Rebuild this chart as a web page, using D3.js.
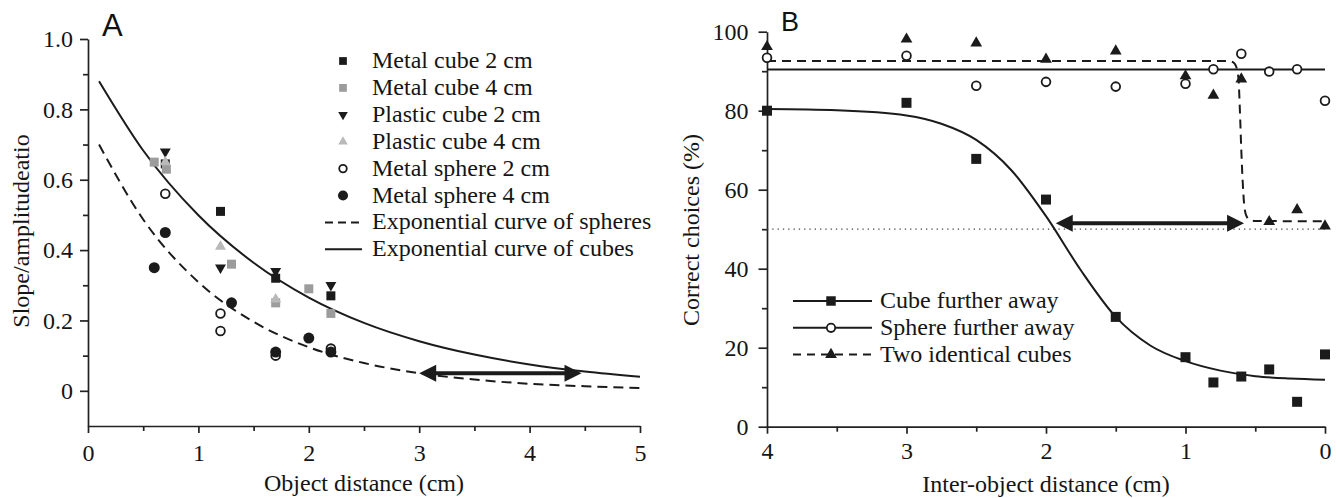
<!DOCTYPE html>
<html><head><meta charset="utf-8">
<script src="https://cdn.jsdelivr.net/npm/d3@7"></script>
<style>
body{margin:0;background:#fff;}
svg text{font-family:"Liberation Serif","DejaVu Serif","Times New Roman",Times,serif;}
svg text.lbl{font-family:"Liberation Sans","DejaVu Sans",Arial,sans-serif;}
</style></head><body>
<svg id="chart" width="1340" height="498"></svg>
<script>
// ---------- Panel A data ----------
const legendA = ["Metal cube 2 cm","Metal cube 4 cm","Plastic cube 2 cm","Plastic cube 4 cm","Metal sphere 2 cm","Metal sphere 4 cm","Exponential curve of spheres","Exponential curve of cubes"];
const metalCube2X = [0.7,1.2,1.7,2.2];
const metalCube2Y = [0.645,0.51,0.32,0.27];
const metalCube4X = [0.6,0.71,1.3,1.7,2.0,2.2];
const metalCube4Y = [0.65,0.63,0.36,0.25,0.29,0.22];
const plasticCube2X = [0.7,1.2,1.7,2.2];
const plasticCube2Y = [0.68,0.35,0.34,0.30];
const plasticCube4X = [0.7,1.2,1.7];
const plasticCube4Y = [0.65,0.41,0.26];
const metalSphere2X = [0.7,1.2,1.2,1.7,2.2];
const metalSphere2Y = [0.56,0.22,0.17,0.10,0.12];
const metalSphere4X = [0.6,0.7,1.3,1.7,2.0,2.2];
const metalSphere4Y = [0.35,0.45,0.25,0.11,0.15,0.11];
const curveAX = [0.1,0.5,1,1.5,2,2.5,3,3.5,4,4.5,5];
const cubeCurveY = [0.880,0.683,0.499,0.364,0.265,0.193,0.141,0.103,0.075,0.055,0.040];
const sphereCurveY = [0.700,0.487,0.309,0.196,0.124,0.079,0.050,0.032,0.020,0.013,0.008];
const arrowAX = [3.0,4.47];
const arrowAY = 0.05;
const xTicksA = [0,1,2,3,4,5];
const xMinorA = [0.5,1.5,2.5,3.5,4.5];
const yTicksA = [0,0.2,0.4,0.6,0.8,1.0];
const yTickLabelsA = ["0","0.2","0.4","0.6","0.8","1.0"];
const yMinorA = [0.1,0.3,0.5,0.7,0.9];

// ---------- Panel B data ----------
const legendB = ["Cube further away","Sphere further away","Two identical cubes"];
const distB = [4,3,2.5,2,1.5,1,0.8,0.6,0.4,0.2,0];
const cubeAway = [80,82,67.8,57.5,27.8,17.6,11.2,12.7,14.5,6.3,18.3];
const sphereAway = [93.4,93.9,86.3,87.3,86.1,86.8,90.5,94.4,89.9,90.5,82.5];
const identical = [96.2,98.1,97.1,93.0,95.1,88.8,83.9,88.0,51.9,54.9,50.8];
const cubeFitX = [4,3.5,3,2.75,2.5,2.25,2,1.75,1.5,1.25,1,0.75,0.5,0.25,0];
const cubeFitY = [80.4,80.1,78.8,76.7,72.6,65.0,53.3,39.6,27.8,20.5,16.6,14.2,12.8,12.2,11.9];
const sphereFitX = [4,0];
const sphereFitY = [90.4,90.4];
const identFitX = [4,0.70,0.66,0.635,0.62,0.61,0.60,0.59,0.58,0.565,0.54,0.50,0];
const identFitY = [92.6,92.6,92.3,91,88,80,70,62,56.5,53.5,52.4,52.1,52.0];
const chanceX = [4,0];
const chanceY = 50;
const arrowBX = [1.93,0.58];
const arrowBY = 51.5;
const xTicksB = [4,3,2,1,0];
const xMinorB = [3.5,2.5,1.5,0.5];
const yTicksB = [0,20,40,60,80,100];
const yMinorB = [10,30,50,70,90];

// ---------- helpers ----------
const INK = "#1b1b1b";
const TXT = "#151515";
const svg = d3.select("#chart");

function styleAxis(g){
  g.attr("font-family", null).attr("font-size", 24);
  g.selectAll("path.domain").attr("stroke", "#222").attr("stroke-width", 1.7);
  g.selectAll(".tick line").attr("stroke", "#222").attr("stroke-width", 1.7);
  g.selectAll(".tick text").attr("fill", TXT);
}
function minorAxis(g){
  g.select("path.domain").remove();
  g.selectAll(".tick text").remove();
  g.selectAll(".tick line").attr("stroke", "#222").attr("stroke-width", 1.7);
}
function zip(xs, ys){ return xs.map((x,i)=>[x, ys[i]]); }

const sym = (type, size) => d3.symbol().type(type).size(size)();

function drawMarkers(g, xs, ys, xS, yS, type, size, fill, stroke, rot){
  g.selectAll(null).data(zip(xs, ys)).enter().append("path")
    .attr("d", sym(type, size))
    .attr("transform", d => `translate(${xS(d[0])},${yS(d[1])})` + (rot ? " rotate(180)" : ""))
    .attr("fill", fill)
    .attr("stroke", stroke || "none")
    .attr("stroke-width", stroke ? 1.8 : 0);
}

function drawArrow(g, x1, x2, y){
  const head = 17, half = 8.5;
  const dir = x2 > x1 ? 1 : -1;
  g.append("line").attr("x1", x1 + dir*head*0.8).attr("x2", x2 - dir*head*0.8)
    .attr("y1", y).attr("y2", y).attr("stroke", INK).attr("stroke-width", 4);
  g.append("path").attr("d", `M${x1},${y} L${x1+dir*head},${y-half} L${x1+dir*head},${y+half} Z`).attr("fill", INK);
  g.append("path").attr("d", `M${x2},${y} L${x2-dir*head},${y-half} L${x2-dir*head},${y+half} Z`).attr("fill", INK);
}
function addText(g, x, y, t, opts){
  opts = opts || {};
  const el = g.append("text").attr("x", x).attr("y", y).attr("font-size", opts.size || 24)
    .attr("fill", opts.fill || TXT).text(t);
  if (opts.anchor) el.attr("text-anchor", opts.anchor);
  if (opts.cls) el.attr("class", opts.cls);
  if (opts.transform) el.attr("transform", opts.transform).attr("x", 0).attr("y", 0);
  return el;
}

// ================= Panel A =================
const xA = d3.scaleLinear().domain([0,5]).range([88,640]);
const yA = d3.scaleLinear().domain([-0.1,1.0]).range([426,39]);
const gA = svg.append("g");

gA.append("g").attr("transform","translate(0,426)")
  .call(d3.axisBottom(xA).tickValues(xMinorA).tickSize(5).tickFormat(""))
  .call(minorAxis);
gA.append("g").attr("transform","translate(0,426)")
  .call(d3.axisBottom(xA).tickValues(xTicksA).tickSize(7).tickSizeOuter(0).tickPadding(11).tickFormat(d3.format("d")))
  .call(styleAxis);
gA.append("g").attr("transform","translate(88,0)")
  .call(d3.axisLeft(yA).tickValues(yMinorA).tickSize(5).tickFormat(""))
  .call(minorAxis);
gA.append("g").attr("transform","translate(88,0)")
  .call(d3.axisLeft(yA).tickValues(yTicksA).tickSize(8).tickSizeOuter(0).tickPadding(7)
        .tickFormat((d,i)=>yTickLabelsA[i]))
  .call(styleAxis);

const lineA = d3.line().x(d=>xA(d[0])).y(d=>yA(d[1])).curve(d3.curveMonotoneX);
gA.append("path").attr("d", lineA(zip(curveAX, cubeCurveY)))
  .attr("fill","none").attr("stroke",INK).attr("stroke-width",2);
gA.append("path").attr("d", lineA(zip(curveAX, sphereCurveY)))
  .attr("fill","none").attr("stroke",INK).attr("stroke-width",2).attr("stroke-dasharray","10,6");

const mA = gA.append("g");
drawMarkers(mA, metalCube2X, metalCube2Y, xA, yA, d3.symbolSquare, 81, INK);
drawMarkers(mA, metalCube4X, metalCube4Y, xA, yA, d3.symbolSquare, 81, "#9c9c9c");
drawMarkers(mA, plasticCube2X, plasticCube2Y, xA, yA, d3.symbolTriangle, 52, INK, null, true);
drawMarkers(mA, plasticCube4X, plasticCube4Y, xA, yA, d3.symbolTriangle, 52, "#b9b9b9");
drawMarkers(mA, metalSphere2X, metalSphere2Y, xA, yA, d3.symbolCircle, 60, "#fff", INK);
drawMarkers(mA, metalSphere4X, metalSphere4Y, xA, yA, d3.symbolCircle, 95, INK);

drawArrow(gA, xA(arrowAX[0]), xA(arrowAX[1]), yA(arrowAY));

// legend A
const lgA = gA.append("g");
const legAMarkers = [
  {type:d3.symbolSquare,size:60,fill:INK},
  {type:d3.symbolSquare,size:60,fill:"#9c9c9c"},
  {type:d3.symbolTriangle,size:40,fill:INK,rot:true},
  {type:d3.symbolTriangle,size:40,fill:"#b9b9b9"},
  {type:d3.symbolCircle,size:45,fill:"#fff",stroke:INK},
  {type:d3.symbolCircle,size:80,fill:INK},
  {line:"8,5"},
  {line:null}
];
legendA.forEach((t,i)=>{
  const by = 68 + i*26.9;
  const cy = by - 7;
  const m = legAMarkers[i];
  if (m.type){
    lgA.append("path").attr("d", sym(m.type, m.size))
      .attr("transform", `translate(343,${cy})` + (m.rot?" rotate(180)":""))
      .attr("fill", m.fill).attr("stroke", m.stroke||"none").attr("stroke-width", m.stroke?1.8:0);
  } else {
    lgA.append("line").attr("x1",325).attr("x2",362).attr("y1",cy).attr("y2",cy)
      .attr("stroke",INK).attr("stroke-width",2).attr("stroke-dasharray", m.line || null);
  }
  addText(lgA, 372, by, t);
});

addText(gA, 364, 491, "Object distance (cm)", {anchor:"middle"});
addText(gA, 0, 0, "Slope/amplitudeatio", {anchor:"middle", transform:"translate(29,231) rotate(-90)"});
addText(gA, 102, 36, "A", {size:31, fill:"#111", cls:"lbl"});

// ================= Panel B =================
const xB = d3.scaleLinear().domain([4,0]).range([767,1325]);
const yB = d3.scaleLinear().domain([0,100]).range([426.7,31.7]);
const gB = svg.append("g");

gB.append("g").attr("transform","translate(0,426.7)")
  .call(d3.axisBottom(xB).tickValues(xMinorB).tickSize(5).tickFormat(""))
  .call(minorAxis);
gB.append("g").attr("transform","translate(0,426.7)")
  .call(d3.axisBottom(xB).tickValues(xTicksB).tickSize(7).tickSizeOuter(0).tickPadding(8).tickFormat(d3.format("d")))
  .call(styleAxis);
gB.append("g").attr("transform","translate(767,0)")
  .call(d3.axisLeft(yB).tickValues(yMinorB).tickSize(5).tickFormat(""))
  .call(minorAxis);
gB.append("g").attr("transform","translate(767,0)")
  .call(d3.axisLeft(yB).tickValues(yTicksB).tickSize(8.5).tickSizeOuter(0).tickPadding(10).tickFormat(d3.format("d")))
  .call(styleAxis);

// chance line
gB.append("line").attr("x1",xB(chanceX[0])).attr("x2",xB(chanceX[1]))
  .attr("y1",yB(chanceY)).attr("y2",yB(chanceY))
  .attr("stroke","#444").attr("stroke-width",1.2).attr("stroke-dasharray","1.3,4");

const lineB = d3.line().x(d=>xB(d[0])).y(d=>yB(d[1])).curve(d3.curveMonotoneX);
gB.append("path").attr("d", lineB(zip(identFitX, identFitY)))
  .attr("fill","none").attr("stroke",INK).attr("stroke-width",2).attr("stroke-dasharray","9,6");
gB.append("path").attr("d", lineB(zip(sphereFitX, sphereFitY)))
  .attr("fill","none").attr("stroke",INK).attr("stroke-width",2);
gB.append("path").attr("d", lineB(zip(cubeFitX, cubeFitY)))
  .attr("fill","none").attr("stroke",INK).attr("stroke-width",2);

const mB = gB.append("g");
drawMarkers(mB, distB, cubeAway, xB, yB, d3.symbolSquare, 100, INK);
drawMarkers(mB, distB, identical, xB, yB, d3.symbolTriangle, 60, INK);
drawMarkers(mB, distB, sphereAway, xB, yB, d3.symbolCircle, 60, "#fff", INK);

drawArrow(gB, xB(arrowBX[0]), xB(arrowBX[1]), yB(arrowBY));

// legend B
const lgB = gB.append("g");
const legBMarkers = [
  {type:d3.symbolSquare,size:90,fill:INK,dash:null},
  {type:d3.symbolCircle,size:55,fill:"#fff",stroke:INK,dash:null},
  {type:d3.symbolTriangle,size:60,fill:INK,dash:"8,6"}
];
legendB.forEach((t,i)=>{
  const by = 308 + i*26.8;
  const cy = by - 7;
  const m = legBMarkers[i];
  lgB.append("line").attr("x1",793).attr("x2",872).attr("y1",cy).attr("y2",cy)
    .attr("stroke",INK).attr("stroke-width",2).attr("stroke-dasharray", m.dash);
  lgB.append("path").attr("d", sym(m.type, m.size)).attr("transform",`translate(831,${cy})`)
    .attr("fill",m.fill).attr("stroke",m.stroke||"none").attr("stroke-width",m.stroke?1.8:0);
  addText(lgB, 880, by, t);
});

addText(gB, 1046, 492, "Inter-object distance (cm)", {anchor:"middle"});
addText(gB, 0, 0, "Correct choices (%)", {anchor:"middle", transform:"translate(699,230) rotate(-90)"});
addText(gB, 781, 31, "B", {size:27, fill:"#111", cls:"lbl"});
</script>
</body></html>
